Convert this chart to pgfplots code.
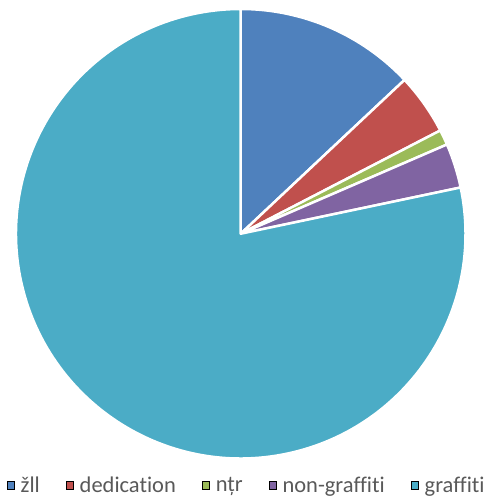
\documentclass[border=0pt]{standalone}
\usepackage{pgfplots}
\usepackage{pgfplotstable}
\pgfplotsset{compat=1.18}
\usepackage{fontspec}
\setmainfont{Carlito}[Ligatures={NoCommon}]
\definecolor{cblue}{HTML}{4F81BD}
\definecolor{cred}{HTML}{C0504D}
\definecolor{cgreen}{HTML}{9BBB59}
\definecolor{cpurple}{HTML}{8064A2}
\definecolor{ccyan}{HTML}{4BACC6}
\definecolor{ltext}{HTML}{595959}
\pgfplotstableread{
label value
zll 13.0
dedication 4.4
ntr 1.1
nongraffiti 3.2
graffiti 78.3
}\piedata
\pgfplotstablegetelem{0}{value}\of\piedata \let\vA\pgfplotsretval
\pgfplotstablegetelem{1}{value}\of\piedata \let\vB\pgfplotsretval
\pgfplotstablegetelem{2}{value}\of\piedata \let\vC\pgfplotsretval
\pgfplotstablegetelem{3}{value}\of\piedata \let\vD\pgfplotsretval
\pgfplotstablegetelem{4}{value}\of\piedata \let\vE\pgfplotsretval
\pgfmathsetmacro\aA{90}
\pgfmathsetmacro\aB{\aA-3.6*\vA}
\pgfmathsetmacro\aC{\aB-3.6*\vB}
\pgfmathsetmacro\aD{\aC-3.6*\vC}
\pgfmathsetmacro\aE{\aD-3.6*\vD}
\pgfmathsetmacro\aF{\aE-3.6*\vE}
\begin{document}
\begin{tikzpicture}
\begin{axis}[
  scale only axis, width=450pt, height=450pt,
  xmin=-1, xmax=1, ymin=-1, ymax=1,
  hide axis, clip=false,
  legend columns=5,
  legend style={at={(0.5,0)}, anchor=center, xshift=6pt, yshift=-27pt, draw=none, fill=none,
    font=\fontsize{22.5}{25}\selectfont\color{ltext},
    /tikz/every odd column/.append style={column sep=4pt},
    /tikz/every even column/.append style={column sep=24pt}},
  legend image code/.code={\fill[#1] (0pt,-3.5pt) rectangle (7.5pt,4pt);},
]
\path (axis cs:-1.0711,1.04) rectangle (axis cs:1.1067,-1.1733);
\fill[cblue, draw=white, line width=2.5pt, line join=round] (axis cs:0,0) -- ++(\aA:225pt) arc[start angle=\aA, end angle=\aB, radius=225pt] -- cycle;
\fill[cred, draw=white, line width=2.5pt, line join=round] (axis cs:0,0) -- ++(\aB:225pt) arc[start angle=\aB, end angle=\aC, radius=225pt] -- cycle;
\fill[cgreen, draw=white, line width=2.5pt, line join=round] (axis cs:0,0) -- ++(\aC:225pt) arc[start angle=\aC, end angle=\aD, radius=225pt] -- cycle;
\fill[cpurple, draw=white, line width=2.5pt, line join=round] (axis cs:0,0) -- ++(\aD:225pt) arc[start angle=\aD, end angle=\aE, radius=225pt] -- cycle;
\fill[ccyan, draw=white, line width=2.5pt, line join=round] (axis cs:0,0) -- ++(\aE:225pt) arc[start angle=\aE, end angle=\aF, radius=225pt] -- cycle;
\addlegendimage{fill=cblue}\addlegendentry{žll}
\addlegendimage{fill=cred}\addlegendentry{dedication}
\addlegendimage{fill=cgreen}\addlegendentry{nțr}
\addlegendimage{fill=cpurple}\addlegendentry{non-graffiti}
\addlegendimage{fill=ccyan}\addlegendentry{graffiti}
\end{axis}
\end{tikzpicture}
\end{document}
